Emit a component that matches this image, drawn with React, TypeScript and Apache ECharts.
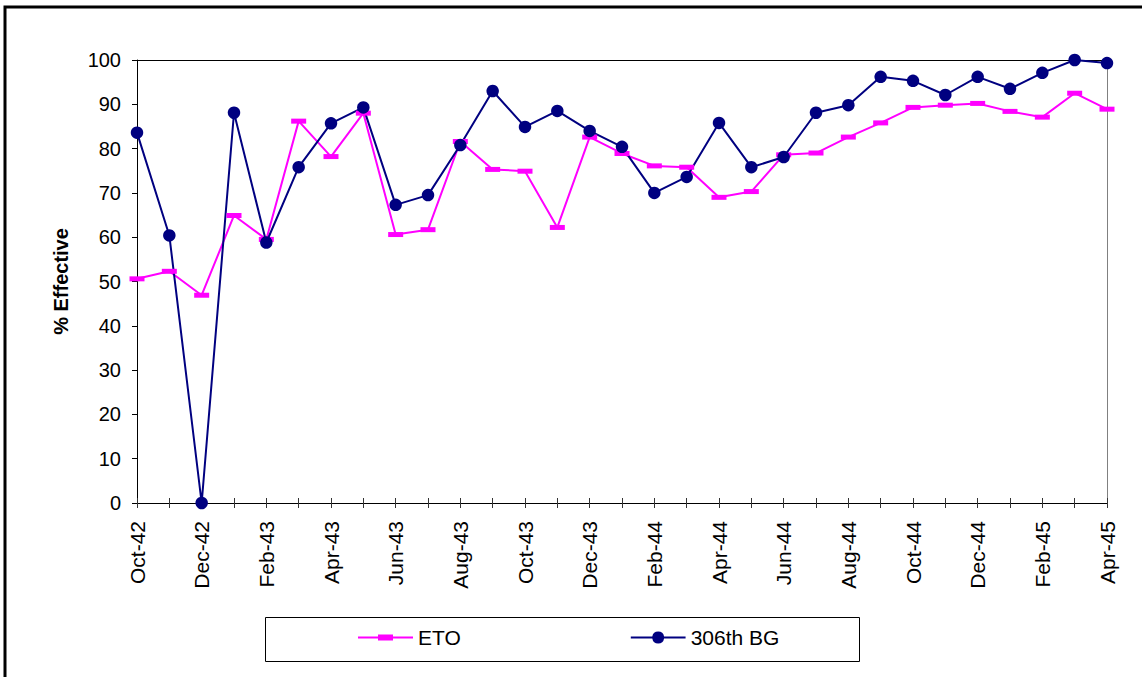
import React, { useEffect, useRef } from "react";
import * as echarts from "echarts";

const months = [
  "Oct-42", "Nov-42", "Dec-42", "Jan-43", "Feb-43", "Mar-43", "Apr-43", "May-43",
  "Jun-43", "Jul-43", "Aug-43", "Sep-43", "Oct-43", "Nov-43", "Dec-43", "Jan-44",
  "Feb-44", "Mar-44", "Apr-44", "May-44", "Jun-44", "Jul-44", "Aug-44", "Sep-44",
  "Oct-44", "Nov-44", "Dec-44", "Jan-45", "Feb-45", "Mar-45", "Apr-45",
];

const etoValues = [
  50.6, 52.3, 46.9, 64.9, 59.5, 86.2, 78.2, 88.0, 60.6, 61.7, 81.6, 75.3, 74.9,
  62.2, 82.6, 78.9, 76.1, 75.8, 69.0, 70.3, 78.6, 79.0, 82.6, 85.8, 89.3, 89.8,
  90.2, 88.4, 87.1, 92.5, 88.9,
];

const bg306Values = [
  83.6, 60.4, 0, 88.1, 58.8, 75.8, 85.7, 89.3, 67.3, 69.5, 80.8, 93.0, 84.9,
  88.5, 84.0, 80.4, 70.0, 73.6, 85.8, 75.8, 78.1, 88.1, 89.8, 96.2, 95.3, 92.1,
  96.2, 93.5, 97.1, 100, 99.3,
];

const seriesNames = ["ETO", "306th BG"];
const yAxisTitle = "% Effective";

export default function App() {
  const ref = useRef<HTMLDivElement>(null);

  useEffect(() => {
    if (!ref.current) return;
    const chart = echarts.init(ref.current, null, { renderer: "svg" });
    const font = "'Liberation Sans', Arial, Helvetica, sans-serif";
    chart.setOption({
      animation: false,
      backgroundColor: "#ffffff",
      textStyle: { fontFamily: font, color: "#000" },
      grid: { left: 137, right: 35, top: 60, bottom: 174, containLabel: false },
      legend: {
        left: 353,
        top: 622,
        itemWidth: 55,
        itemHeight: 12,
        itemGap: 170,
        symbolKeepAspect: true,
        selectedMode: false,
        textStyle: { fontSize: 21, color: "#000", fontFamily: font },
        data: [
          { name: seriesNames[0], icon: "path://M0,2H20V0H35V2H55V4H35V6H20V4H0Z" },
          {
            name: seriesNames[1],
            icon: "path://M0,5H21.58A6,6 0 0,1 33.42,5H55V7H33.42A6,6 0 0,1 21.58,7H0Z",
          },
        ],
      },
      graphic: [
        {
          type: "rect",
          silent: true,
          shape: { x: 5, y: 7, width: 1200, height: 800 },
          style: { fill: "none", stroke: "#000", lineWidth: 3 },
        },
        {
          type: "rect",
          silent: true,
          shape: { x: 265.5, y: 617.5, width: 594, height: 44 },
          style: { fill: "none", stroke: "#000", lineWidth: 1 },
        },
      ],
      xAxis: [
        {
          type: "category",
          data: months,
          boundaryGap: false,
          position: "bottom",
          axisLine: { show: true, lineStyle: { color: "#000", width: 1 } },
          axisTick: { show: true, interval: 0, length: 5, lineStyle: { color: "#333" } },
          axisLabel: {
            interval: 1,
            rotate: 90,
            margin: 18,
            fontSize: 21,
            color: "#000",
            fontFamily: font,
          },
          splitLine: { show: false },
        },
        {
          type: "category",
          data: months,
          boundaryGap: false,
          position: "bottom",
          axisLine: { show: false },
          axisTick: { show: true, inside: true, interval: 0, length: 5, lineStyle: { color: "#333" } },
          axisLabel: { show: false },
          splitLine: { show: false },
        },
        {
          type: "category",
          data: months,
          boundaryGap: false,
          position: "top",
          axisLine: { show: true, lineStyle: { color: "#000", width: 1 } },
          axisTick: { show: false },
          axisLabel: { show: false },
          splitLine: { show: false },
        },
      ],
      yAxis: [
        {
          type: "value",
          min: 0,
          max: 100,
          interval: 10,
          position: "left",
          axisLine: { show: true, lineStyle: { color: "#000", width: 1 } },
          axisTick: { show: true, length: 5, lineStyle: { color: "#000" } },
          axisLabel: { margin: 16, fontSize: 20, color: "#000", fontFamily: font },
          splitLine: { show: false },
          name: yAxisTitle,
          nameLocation: "middle",
          nameGap: 66,
          nameRotate: 90,
          nameTextStyle: { fontSize: 20, fontWeight: "bold", color: "#000", fontFamily: font },
        },
        {
          type: "value",
          min: 0,
          max: 100,
          interval: 10,
          position: "right",
          axisLine: { show: true, lineStyle: { color: "#808080", width: 1 } },
          axisTick: { show: false },
          axisLabel: { show: false },
          splitLine: { show: false },
        },
      ],
      series: [
        {
          name: seriesNames[0],
          type: "line",
          data: etoValues,
          xAxisIndex: 0,
          yAxisIndex: 0,
          symbol: "rect",
          symbolSize: [15, 5],
          showAllSymbol: true,
          clip: false,
          color: "#FF00FF",
          itemStyle: { color: "#FF00FF" },
          lineStyle: { color: "#FF00FF", width: 2 },
          emphasis: { disabled: true },
        },
        {
          name: seriesNames[1],
          type: "line",
          data: bg306Values,
          xAxisIndex: 0,
          yAxisIndex: 0,
          symbol: "circle",
          symbolSize: 12.5,
          showAllSymbol: true,
          clip: false,
          color: "#000080",
          itemStyle: { color: "#000080" },
          lineStyle: { color: "#000080", width: 2 },
          emphasis: { disabled: true },
        },
      ],
    });
    return () => chart.dispose();
  }, []);

  return (
    <div
      ref={ref}
      style={{ position: "fixed", left: 0, top: 0, width: 1142, height: 677, background: "#fff" }}
    />
  );
}
